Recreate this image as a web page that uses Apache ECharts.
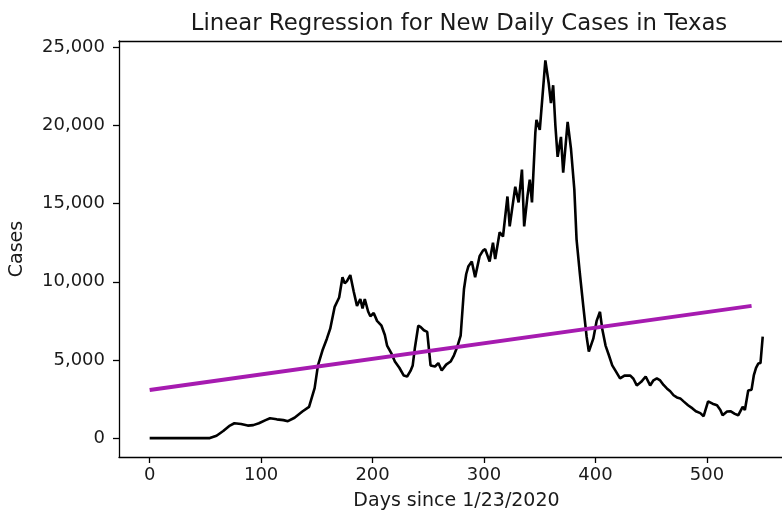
<!DOCTYPE html>
<html>
<head>
<meta charset="utf-8">
<script src="https://cdn.jsdelivr.net/npm/echarts@6/dist/echarts.min.js"></script>
<style>
html,body{margin:0;padding:0;background:#fff;}
#chart{width:782px;height:516px;}
</style>
</head>
<body>
<div id="chart"></div>
<script>
const days = [0,20,40,54,60,66,72,76,82,88,93,98,104,108,114,120,124,130,137,143,148,151,155,159,162,166,170,173,175,177,180,183,186,189,191,193,196,198,201,204,208,211,213,217,220,224,228,231,234,236,238,241,243,246,249,252,256,259,262,266,270,273,276,279,282,284,286,289,292,296,299,301,305,308,310,314,317,321,323,328,331,334,336,339,341,343,346,347,350,352,355,358,360,362,364,366,369,371,375,378,381,383,386,389,392,394,398,401,404,406,409,412,415,418,422,426,431,434,437,441,445,449,452,455,458,461,464,467,470,473,476,479,483,487,490,494,497,501,505,509,512,514,518,521,525,528,532,534,537,540,542,544,546,548,550];
const cases = [0,0,0,0,150,450,800,950,900,800,830,950,1150,1270,1200,1150,1080,1300,1700,2000,3200,4650,5600,6360,7000,8400,9000,10300,9900,10050,10430,9400,8460,8900,8300,8900,8100,7800,8000,7500,7190,6600,5920,5400,4900,4500,4000,3940,4300,4650,5800,7190,7120,6900,6800,4650,4580,4800,4330,4700,4900,5300,5850,6550,9540,10500,11000,11300,10300,11640,12000,12090,11300,12500,11450,13170,12900,15460,13550,16090,15080,17180,13550,15500,16540,15080,19530,20360,19720,21500,24170,22710,21440,22580,20000,18000,19270,16980,20230,18500,15900,12700,10500,8460,6500,5530,6360,7500,8080,7000,5920,5300,4650,4300,3820,4000,4010,3800,3370,3600,3940,3370,3700,3820,3690,3400,3180,3000,2740,2600,2540,2350,2100,1900,1720,1600,1400,2350,2200,2100,1800,1460,1700,1720,1550,1460,2000,1800,3050,3100,4010,4500,4770,4800,6490];
const regDays = [0,540];
const regCases = [3080,8460];
const xTicks = [0,100,200,300,400,500];
const yTicks = [0,5000,10000,15000,20000,25000];

const zip = (a,b) => a.map((v,i) => [v,b[i]]);
const txt = '#1a1a1a';
const XMIN = -27.5, XMAX = 567.3;
const chart = echarts.init(document.getElementById('chart'));
chart.setOption({
  animation:false,
  backgroundColor:'#fff',
  title:{
    text:'Linear Regression for New Daily Cases in Texas',
    left:454, textAlign:'center', top:8,
    textStyle:{fontFamily:'DejaVu Sans', fontSize:22.8, fontWeight:'normal', color:txt}
  },
  grid:{left:119, top:41, right:0, bottom:57, show:false},
  xAxis:[{
    type:'value', min:XMIN, max:XMAX,
    name:'Days since 1/23/2020', nameLocation:'middle', nameGap:35,
    nameTextStyle:{fontFamily:'DejaVu Sans', fontSize:19, color:txt, padding:[0,0,0,12]},
    axisLine:{show:true, onZero:false, lineStyle:{color:'#000', width:1.3}},
    axisTick:{show:true, length:6, customValues:xTicks, lineStyle:{color:'#000', width:1.3}},
    axisLabel:{customValues:xTicks, margin:9, fontFamily:'DejaVu Sans', fontSize:18, color:txt},
    splitLine:{show:false}
  },{
    type:'value', position:'top', min:XMIN, max:XMAX,
    axisLine:{show:true, onZero:false, lineStyle:{color:'#000', width:1.3}},
    axisTick:{show:false}, axisLabel:{show:false}, splitLine:{show:false}
  }],
  yAxis:{
    type:'value', min:-1210, max:25410,
    name:'Cases', nameLocation:'middle', nameGap:92, nameRotate:90,
    nameTextStyle:{fontFamily:'DejaVu Sans', fontSize:19, color:txt},
    axisLine:{show:true, onZero:false, lineStyle:{color:'#000', width:1.3}},
    axisTick:{show:true, length:6, customValues:yTicks, lineStyle:{color:'#000', width:1.3}},
    axisLabel:{customValues:yTicks, margin:14, fontFamily:'DejaVu Sans', fontSize:18, color:txt,
      formatter:v => v.toLocaleString('en-US')},
    splitLine:{show:false}
  },
  series:[
    {type:'line', data:zip(days,cases), showSymbol:false, symbol:'none',
     lineStyle:{color:'#000', width:2.6}, z:2},
    {type:'line', data:zip(regDays,regCases), showSymbol:false, symbol:'none',
     lineStyle:{color:'#a61bb0', width:4}, z:3}
  ]
});
</script>
</body>
</html>
